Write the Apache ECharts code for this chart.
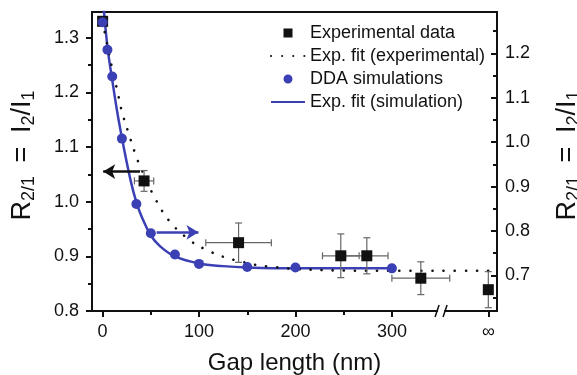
<!DOCTYPE html>
<html><head><meta charset="utf-8">
<script src="https://cdn.jsdelivr.net/npm/echarts@6/dist/echarts.min.js"></script>
<style>html,body{margin:0;padding:0;background:#fff}#c{width:577px;height:375px}</style>
</head><body><div id="c"></div>
<script>
// ---- data ----
const xTickLabels = [0, 100, 200, 300, 400];          // 400 shown as "∞"
const xMinorTicks = [50, 150, 250];
const leftTicks = [0.8, 0.9, 1.0, 1.1, 1.2, 1.3];
const leftMinorTicks = [0.85, 0.95, 1.05, 1.15, 1.25];
const rightTicks = [0.7, 0.8, 0.9, 1.0, 1.1, 1.2];
const rightMinorTicks = [0.65, 0.75, 0.85, 0.95, 1.05, 1.15, 1.25];

// Experimental data (left axis): x, y, x error, y error
const expX    = [0, 43, 141, 247, 274, 330, 400];
const expY    = [1.330, 1.038, 0.925, 0.901, 0.901, 0.860, 0.839];
const expXErr = [0, 10, 34, 19, 22, 30, 0];
const expYErr = [0.008, 0.019, 0.036, 0.040, 0.033, 0.030, 0.033];

// Exp. fit (experimental) – dotted, left axis
const fitExpX = [0, 5, 10, 15, 20, 27, 34, 40, 55, 70, 90, 105, 127, 140, 160, 175, 200, 250, 300, 350, 405];
const fitExpY = [1.33, 1.285, 1.243, 1.205, 1.165, 1.125, 1.087, 1.06, 1.004, 0.963, 0.93, 0.914, 0.898, 0.892, 0.884, 0.881, 0.877, 0.874, 0.8735, 0.8735, 0.8735];

// DDA simulations – right axis
const ddaX = [0, 5, 10, 20, 35, 50, 75, 100, 150, 200, 300];
const ddaY = [1.27, 1.208, 1.148, 1.008, 0.861, 0.795, 0.747, 0.726, 0.719, 0.718, 0.716];

// Exp. fit (simulation) – solid blue, right axis
const fitSimX = [0, 5, 10, 15, 20, 25, 30, 35, 40, 50, 60, 75, 100, 125, 150, 200, 250, 300];
const fitSimY = [1.33, 1.215, 1.14, 1.07, 1.01, 0.955, 0.905, 0.865, 0.835, 0.79, 0.765, 0.743, 0.727, 0.721, 0.718, 0.716, 0.716, 0.716];

// annotation arrows
const leftArrow  = {x: [0.6, 38.8], y: 1.055};
const rightArrow = {x: [56, 99.4], y: 0.797};

const zip = (a, b) => a.map((v, i) => [v, b[i]]);
const BLUE = '#3b40b5';
const INK = '#111';
const FONT = 'Liberation Sans';
const CLEAR = 'rgba(0,0,0,0)';

const axisName = {
  padding: [0, 0, 0, 12],
  rich: {
    m: {fontSize: 27, lineHeight: 30, fontFamily: FONT, color: INK},
    e: {fontSize: 27, lineHeight: 30, fontFamily: FONT, color: INK, padding: [0, 6, 0, 6]},
    s: {fontSize: 18, lineHeight: 18, verticalAlign: 'bottom', fontFamily: FONT, color: INK}
  }
};
const nameText = '{m|R}{s|2/1}{e| = }{m|I}{s|2}{m|/I}{s|1}';

const squareIcon = 'path://M0,0L0,0ZM34,12L34,12ZM12.5,1.5L21.5,1.5L21.5,10.5L12.5,10.5Z';
const dotIcon = 'path://M0,0L0,0ZM34,12L34,12ZM21.5,6A4.5,4.5,0,1,1,12.5,6A4.5,4.5,0,1,1,21.5,6Z';

const chart = echarts.init(document.getElementById('c'), null, {renderer: 'canvas'});
const minorY = (min, max, ticks, inside) => ({
  type: 'value', min: min, max: max, position: inside ? 'right' : 'left',
  axisLine: {show: false, onZero: false},
  axisTick: {show: true, inside: inside, length: 4, lineStyle: {color: INK, width: 2}, customValues: ticks},
  axisLabel: {show: false}, splitLine: {show: false}
});
const option = {
  animation: false,
  backgroundColor: '#fff',
  grid: {left: 92, right: 80, top: 12, bottom: 64, containLabel: false, outerBoundsMode: 'none',
    show: true, borderColor: INK, borderWidth: 2, backgroundColor: 'transparent'},
  legend: {
    orient: 'vertical', left: 265, top: 19, itemWidth: 34, itemHeight: 12, itemGap: 5,
    textStyle: {fontSize: 18, fontFamily: FONT, color: INK},
    data: [
      {name: 'Experimental data', icon: squareIcon, itemStyle: {color: INK, borderWidth: 0, opacity: 1}},
      {name: 'Exp. fit (experimental)', itemStyle: {color: CLEAR, borderColor: CLEAR, borderWidth: 0}},
      {name: 'DDA simulations', icon: dotIcon, itemStyle: {color: BLUE, borderWidth: 0, opacity: 1}},
      {name: 'Exp. fit (simulation)', itemStyle: {color: CLEAR, borderColor: CLEAR, borderWidth: 0}}
    ]
  },
  xAxis: [{
    type: 'value', min: -11, max: 409,
    name: 'Gap length (nm)', nameLocation: 'middle', nameGap: 40,
    nameTextStyle: {fontSize: 24, fontFamily: FONT, color: INK},
    axisLine: {show: true, onZero: false, lineStyle: {color: INK, width: 2}},
    axisTick: {show: true, inside: false, length: 6, lineStyle: {color: INK, width: 2}, customValues: xTickLabels},
    axisLabel: {fontSize: 18, fontFamily: FONT, color: INK, margin: 12, customValues: xTickLabels,
      formatter: v => (v === 400 ? '∞' : String(v))},
    splitLine: {show: false}
  }, {
    type: 'value', min: -11, max: 409, position: 'bottom',
    axisLine: {show: false, onZero: false},
    axisTick: {show: true, inside: false, length: 4, lineStyle: {color: INK, width: 2}, customValues: xMinorTicks},
    axisLabel: {show: false}, splitLine: {show: false}
  }],
  yAxis: [{
    type: 'value', min: 0.8, max: 1.347, position: 'left',
    name: nameText, nameLocation: 'middle', nameGap: 54, nameRotate: 90,
    nameTextStyle: axisName,
    axisLine: {show: true, onZero: false, lineStyle: {color: INK, width: 2}},
    axisTick: {show: true, inside: false, length: 6, lineStyle: {color: INK, width: 2}, customValues: leftTicks},
    axisLabel: {fontSize: 18, fontFamily: FONT, color: INK, margin: 13, customValues: leftTicks, formatter: v => v.toFixed(1)},
    splitLine: {show: false}
  }, {
    type: 'value', min: 0.62, max: 1.293, position: 'right',
    name: nameText, nameLocation: 'middle', nameGap: 56, nameRotate: 90,
    nameTextStyle: axisName,
    axisLine: {show: true, onZero: false, lineStyle: {color: INK, width: 2}},
    axisTick: {show: true, inside: true, length: 6, lineStyle: {color: INK, width: 2}, customValues: rightTicks},
    axisLabel: {fontSize: 18, fontFamily: FONT, color: INK, margin: 8, customValues: rightTicks, formatter: v => v.toFixed(1)},
    splitLine: {show: false}
  },
  minorY(0.62, 1.293, rightMinorTicks, true),
  minorY(0.8, 1.347, leftMinorTicks, false)
  ],
  series: [
    {
      name: 'Exp. fit (simulation)', type: 'line', xAxisIndex: 0, yAxisIndex: 1,
      data: zip(fitSimX, fitSimY), smooth: 0.4, showSymbol: false, symbol: 'none',
      lineStyle: {color: BLUE, width: 2.5}, itemStyle: {color: BLUE}, z: 3, clip: true
    },
    {
      name: 'Exp. fit (experimental)', type: 'line', xAxisIndex: 0, yAxisIndex: 0,
      data: zip(fitExpX, fitExpY), smooth: 0.4, showSymbol: false, symbol: 'none',
      lineStyle: {color: INK, width: 2.6, type: [0.1, 11], cap: 'round'}, itemStyle: {color: INK}, z: 3, clip: true
    },
    {
      name: 'errors', type: 'custom', xAxisIndex: 0, yAxisIndex: 0, clip: true, z: 4,
      data: expX.map((x, i) => [x, expY[i], expXErr[i], expYErr[i]]),
      renderItem: (params, api) => {
        const x = api.value(0), y = api.value(1), ex = api.value(2), ey = api.value(3);
        const l = api.coord([x - ex, y]), r = api.coord([x + ex, y]);
        const t = api.coord([x, y + ey]), b = api.coord([x, y - ey]);
        const st = {stroke: '#666', lineWidth: 1.2};
        const cap = 3.5;
        const ch = [
          {type: 'line', shape: {x1: t[0], y1: t[1], x2: b[0], y2: b[1]}, style: st},
          {type: 'line', shape: {x1: t[0] - cap, y1: t[1], x2: t[0] + cap, y2: t[1]}, style: st},
          {type: 'line', shape: {x1: b[0] - cap, y1: b[1], x2: b[0] + cap, y2: b[1]}, style: st}
        ];
        if (ex > 0) {
          ch.push({type: 'line', shape: {x1: l[0], y1: l[1], x2: r[0], y2: r[1]}, style: st});
          ch.push({type: 'line', shape: {x1: l[0], y1: l[1] - cap, x2: l[0], y2: l[1] + cap}, style: st});
          ch.push({type: 'line', shape: {x1: r[0], y1: r[1] - cap, x2: r[0], y2: r[1] + cap}, style: st});
        }
        return {type: 'group', children: ch};
      }
    },
    {
      name: 'Experimental data', type: 'scatter', xAxisIndex: 0, yAxisIndex: 0,
      data: zip(expX, expY), symbol: 'rect', symbolSize: 11, itemStyle: {color: INK, opacity: 1}, z: 5,
      markLine: {
        silent: true, symbol: ['arrow', 'none'], symbolSize: [11, 12],
        label: {show: false}, lineStyle: {color: INK, width: 2.5, type: 'solid', opacity: 1},
        data: [[{coord: [leftArrow.x[0], leftArrow.y]}, {coord: [leftArrow.x[1], leftArrow.y]}]]
      }
    },
    {
      name: 'DDA simulations', type: 'scatter', xAxisIndex: 0, yAxisIndex: 1,
      data: zip(ddaX, ddaY), symbol: 'circle', symbolSize: 10, itemStyle: {color: BLUE, opacity: 1}, z: 5,
      markLine: {
        silent: true, symbol: ['none', 'arrow'], symbolSize: [11, 12],
        label: {show: false}, lineStyle: {color: BLUE, width: 2.5, type: 'solid', opacity: 1},
        data: [[{coord: [rightArrow.x[0], rightArrow.y]}, {coord: [rightArrow.x[1], rightArrow.y]}]]
      }
    }
  ]
};
chart.setOption(option);

// axis break marks ("//") on the x axis
const bp = chart.convertToPixel({xAxisIndex: 0, yAxisIndex: 0}, [351, 0.8]);
const bx = bp[0], by = bp[1];
chart.setOption({
  graphic: [
    {type: 'rect', shape: {x: bx - 3, y: by - 3, width: 6, height: 6}, style: {fill: '#fff'}, z: 100},
    {type: 'line', shape: {x1: bx - 6, y1: by + 6, x2: bx - 2, y2: by - 6}, style: {stroke: INK, lineWidth: 1.5}, z: 101},
    {type: 'line', shape: {x1: bx + 2, y1: by + 6, x2: bx + 6, y2: by - 6}, style: {stroke: INK, lineWidth: 1.5}, z: 101}
  ]
});
</script></body></html>
